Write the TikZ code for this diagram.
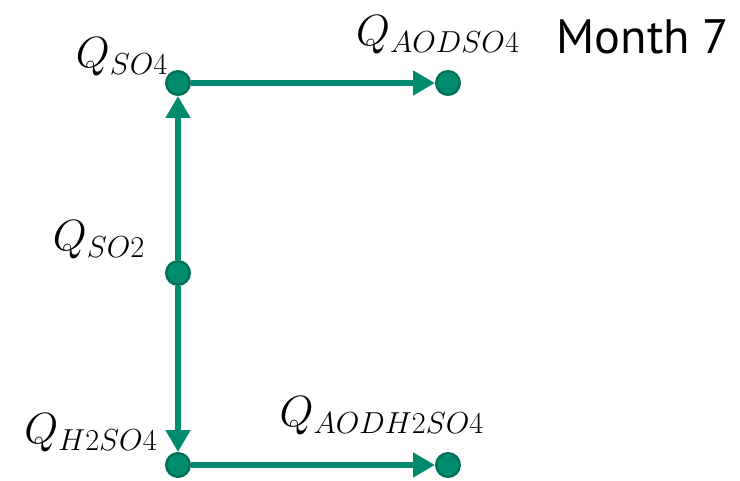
\documentclass[tikz,border=0pt]{standalone}
\usepackage{fontspec}
\setsansfont{PT Sans}
\usetikzlibrary{arrows.meta}

\definecolor{flowgreen}{RGB}{0,139,110}
\definecolor{flowedge}{RGB}{0,112,88}

\begin{document}
\begin{tikzpicture}[x=0.02cm,y=-0.02cm,>={Triangle[length=12.5pt,width=13.5pt]}]
  \tikzset{
    pool/.style={circle,draw=flowedge,fill=flowgreen,line width=1.3pt,inner sep=0pt,minimum size=13.5pt},
    flow/.style={->,flowgreen,line width=3.4pt},
    qlabel/.style={inner sep=0pt,font=\fontsize{23.5}{27}\selectfont},
  }
  \useasboundingbox (0,0) rectangle (740,480);
  % pools
  \node[pool] (so4) at (178,83) {};
  \node[pool] (aodso4) at (448,83) {};
  \node[pool] (so2) at (178,273) {};
  \node[pool] (h2so4) at (178,465) {};
  \node[pool] (aodh2so4) at (448,465) {};
  % names of the pools
  \node[qlabel] (lso4) at (122,57) {$Q_{SO4}$};
  \node[qlabel] (laodso4) at (438,35) {$Q_{AODSO4}$};
  \node[qlabel] (lso2) at (99,240) {$Q_{SO2}$};
  \node[qlabel] (lh2so4) at (91,433) {$Q_{H2SO4}$};
  \node[qlabel] (laodh2so4) at (382,416) {$Q_{AODH2SO4}$};
  \node[inner sep=0pt,font=\sffamily\fontsize{27.5}{31}\selectfont] (month) at (643,37) {Month 7};
  % fluxes
  \draw[flow] (so2) -- (so4);
  \draw[flow] (so2) -- (h2so4);
  \draw[flow] (so4) -- (aodso4);
  \draw[flow] (h2so4) -- (aodh2so4);
\end{tikzpicture}
\end{document}
